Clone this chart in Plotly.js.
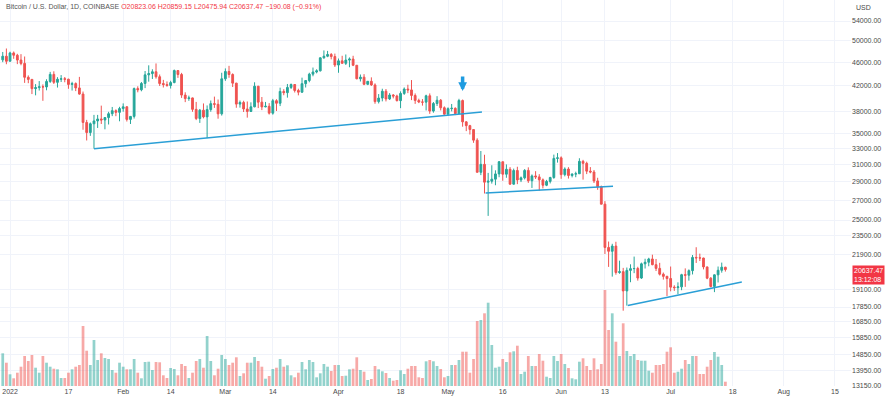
<!DOCTYPE html>
<html><head><meta charset="utf-8">
<script src="https://cdn.plot.ly/plotly-3.0.1.min.js"></script>
<style>html,body{margin:0;padding:0;background:#fff}#chart{width:887px;height:397px}</style>
</head><body><div id="chart"></div>
<script>
// Daily candles from 2021-12-30 to 2022-07-16 (consecutive days)
const startDate = '2021-12-30';
const openP = [46460,47120,46210,47720,47300,46430,45830,43430,43080,41560,41730,41870,41840,42740,43920,42590,43100,43180,43110,42250,42380,41680,40700,36470,35070,36280,36680,36960,36820,37160,37720,38170,37920,38480,38740,36900,37330,41570,41380,42410,43840,44060,44370,43520,42390,42220,42070,42550,44580,43900,40540,40000,40100,38360,37030,38240,37260,38330,39220,39120,37700,43180,44420,43900,42460,39150,39400,38420,38050,38740,41960,39450,38730,38820,37800,39670,39280,41120,40920,41760,42230,41270,41000,42370,42890,43960,44330,44530,46830,47120,47440,47060,45540,46280,45840,46420,46600,45500,43180,43450,42270,42760,42160,39530,40080,41150,39940,40550,40390,39680,40800,41500,41360,40480,39710,39470,39450,40430,38110,39240,39740,38600,37650,38470,38520,37730,39690,36550,36020,35480,34050,30070,31010,28940,29050,29280,29880,31320,29850,30420,28720,30280,29190,29430,30290,29100,29650,29540,29200,28600,29030,29470,31730,31800,29800,30450,29700,29860,29900,31370,31130,30200,30100,29080,28430,26580,22480,22150,22600,20400,20470,19000,20570,20710,20720,19970,21100,21230,21500,21030,20730,20270,20100,19930,19280,19240,19300,20230,20190,20550,21630,21590,21580,20850,19960,19330,20220,20580,20823.06];
const highP = [47900,48550,47950,47990,47560,47500,47070,43750,43140,42300,42800,42250,43100,44350,44450,43450,43800,43480,43190,42680,42580,43500,41100,36830,36460,37550,37550,38920,37230,38000,38720,38360,38740,39260,38850,37390,41740,41940,42650,44500,45490,44800,45820,43900,43000,42740,42850,44750,44580,44180,40980,40450,40150,39480,38420,39250,38950,39700,40300,39850,44200,44950,45400,44100,42510,39700,39660,39550,39420,42600,42000,40240,39480,39300,39950,39890,41720,41480,42320,42400,42300,41550,43370,42880,44200,45100,44800,46920,48190,48100,47700,47600,46700,47200,47440,46900,47200,45500,43900,43960,42800,43420,42420,40700,41550,41500,40850,40700,40600,41130,41760,42200,42970,40800,39980,39920,40600,40800,39470,40370,39930,38800,38660,39170,38650,39960,39850,36650,36130,35500,34300,32650,32180,30000,30900,30300,31410,31330,31000,30680,30500,30720,29580,30440,30650,29820,30200,29850,29360,29200,29550,32200,32390,31980,30650,30670,29950,30140,31750,31550,31330,30680,30340,29440,28560,26890,23000,22800,22980,21360,20770,20800,21060,21700,20860,21200,21520,21600,21860,21500,21180,20400,20150,20880,19420,19640,20300,20730,20650,21830,22500,21950,21600,20860,20040,20250,20880,21200,20859.15];
const lowP = [46050,45680,46210,46650,45700,45500,42500,42450,40700,40500,41260,39650,41300,42500,42320,41740,42650,42600,41540,41260,41170,40600,35450,34010,34620,32950,35700,36250,35510,36180,37370,37360,36630,38010,36600,36250,37020,40980,41140,41650,42700,43150,43200,42000,41750,41880,41580,42440,43330,40100,39450,39650,38000,36800,36400,37050,34320,38010,38580,37000,37450,42830,43350,41830,38600,38620,37970,37150,38010,38670,38550,38250,38670,37600,37580,38120,38850,40520,40140,41500,40950,40500,40880,41750,42600,43600,44100,44420,46660,46950,46550,45200,44200,45830,45550,45150,45350,43100,42730,42120,42130,42000,39200,39250,39570,39560,39780,40030,39550,38540,40570,40850,39760,39180,39300,38920,38200,37700,37870,38870,38200,37590,37400,38060,37520,37680,35870,35260,34800,33700,30050,29740,27700,25400,28780,28600,29500,29100,29440,28650,28670,28720,28950,29250,28860,28300,29300,28000,28250,28500,28800,29320,31220,29320,29600,29350,29480,29500,29880,29230,29860,29950,28850,28100,26560,21920,20850,20080,20230,20300,17600,17950,19650,20350,19770,19900,20720,20900,20980,20520,20170,19850,18630,18970,19000,18760,19050,19300,19770,20250,21170,21330,20650,19880,19260,18910,19630,20390,20475.94];
const closeP = [47120,46210,47720,47300,46430,45830,43430,43080,41560,41730,41870,41840,42740,43920,42590,43100,43180,43110,42250,42380,41680,40700,36470,35070,36280,36680,36960,36820,37160,37720,38170,37920,38480,38740,36900,37330,41570,41380,42410,43840,44060,44370,43520,42390,42220,42070,42550,44580,43900,40540,40000,40100,38360,37030,38240,37260,38330,39220,39120,37700,43180,44420,43900,42460,39150,39400,38420,38050,38740,41960,39450,38730,38820,37800,39670,39280,41120,40920,41760,42230,41270,41000,42370,42890,43960,44330,44530,46830,47120,47440,47060,45540,46280,45840,46420,46600,45500,43180,43450,42270,42760,42160,39530,40080,41150,39940,40550,40390,39680,40800,41500,41360,40480,39710,39470,39450,40430,38110,39240,39740,38600,37650,38470,38520,37730,39690,36550,36020,35480,34050,30070,31010,28940,29050,29280,29880,31320,29850,30420,28720,30280,29190,29430,30290,29100,29650,29540,29200,28600,29030,29470,31730,31800,29800,30450,29700,29860,29900,31370,31130,30200,30100,29080,28430,26580,22480,22150,22600,20400,20470,19000,20570,20710,20720,19970,21100,21230,21500,21030,20730,20270,20100,19930,19280,19240,19300,20230,20190,20550,21630,21590,21580,20850,19960,19330,20220,20580,20827.55,20637.47];
const volumeBTC = [32700,23300,11700,7700,13300,19300,30000,25000,31000,18300,13300,30000,23300,19300,17300,16700,8000,8000,13300,16700,19300,21000,60000,35300,21000,46000,26000,32700,28000,27000,16000,13300,23300,19300,16700,16700,27000,13300,7700,24000,24300,16000,24000,23700,10700,8000,18000,17000,10700,22000,20000,8000,13300,25000,27000,18300,50000,25000,10700,17300,31000,27000,21000,23300,28700,10000,12700,23300,23300,29000,25000,19300,7300,10000,17000,18300,27000,19300,20700,10700,8700,13300,24000,16700,26000,24000,8700,12700,22000,19300,15000,21000,21000,10000,10300,16700,17300,28700,16000,14300,6000,7000,20000,16700,14700,13000,8000,5300,6000,15700,12000,17300,20000,20000,8700,8000,24700,26000,24700,20000,17000,8700,10000,21000,21000,26000,34300,34300,13300,27000,65000,66000,72700,83300,41000,18300,19300,27000,24000,33700,34700,40300,12000,14300,30000,20000,20000,32000,25300,9300,8000,30000,25000,32000,22000,18000,7700,6700,24300,27700,20000,16000,27700,16700,22000,96000,56000,72700,44300,30000,62700,35000,30000,32000,26000,25300,25300,15300,13300,21000,21000,22000,34300,38700,13300,14300,17300,26000,22000,30000,30000,12000,12000,19300,26000,34000,29300,21000,4300];

// Tick labels
const dateTickVals = ['2022-01-01','2022-01-17','2022-02-01','2022-02-14','2022-03-01','2022-03-14','2022-04-01','2022-04-18','2022-05-01','2022-05-16','2022-06-01','2022-06-13','2022-07-01','2022-07-18','2022-08-01','2022-08-15'];
const dateTickText = ['2022','17','Feb','14','Mar','14','Apr','18','May','16','Jun','13','Jul','18','Aug','15'];
const priceTickVals = [54000,50000,46000,42000,38000,35000,33000,31000,29000,27000,25000,23500,21900,19100,17850,16850,15850,14850,13950,13150];

// Trend lines (drawings)
const trend1Dates = ['2022-01-24','2022-05-10 07:00'];
const trend1Prices = [32950, 37980];
const trend2Dates = ['2022-05-11 07:00','2022-06-15 05:00'];
const trend2Prices = [27760, 28500];
const trend3Dates = ['2022-06-19 06:00','2022-07-20 12:00'];
const trend3Prices = [17950, 19670];
const arrowDate = '2022-05-05';
const arrowPrice = 41200;

// build dates
const dates = [];
{
  const d0 = new Date(startDate + 'T00:00:00Z');
  for (let i = 0; i < closeP.length; i++) {
    const d = new Date(d0.getTime() + i * 86400000);
    dates.push(d.toISOString().slice(0, 10));
  }
}
const UP = '#26A69A', DOWN = '#EF5350';
const volColors = closeP.map((c, i) => c >= openP[i] ? 'rgba(38,166,154,0.5)' : 'rgba(239,83,80,0.5)');

const n = closeP.length;
const lastO = openP[n-1], lastH = highP[n-1], lastL = lowP[n-1], lastC = closeP[n-1];
const chg = lastC - closeP[n-2];
const pct = chg / closeP[n-2] * 100;
const fmt = v => v.toFixed(2);
const sgn = v => (v < 0 ? '\u2212' : '+') + Math.abs(v).toFixed(2);

const traces = [
  { type: 'bar', x: dates, y: volumeBTC, marker: { color: volColors, line: { width: 0 } },
    xaxis: 'x', yaxis: 'y', hoverinfo: 'skip', showlegend: false },
  { type: 'candlestick', x: dates, open: openP, high: highP, low: lowP, close: closeP,
    xaxis: 'x', yaxis: 'y2', showlegend: false, hoverinfo: 'skip', whiskerwidth: 0,
    increasing: { line: { color: UP, width: 1 }, fillcolor: UP },
    decreasing: { line: { color: DOWN, width: 1 }, fillcolor: DOWN } },
  { type: 'scatter', mode: 'lines', x: trend1Dates, y: trend1Prices, xaxis: 'x', yaxis: 'y2',
    line: { color: '#2A9FD6', width: 1.5 }, showlegend: false, hoverinfo: 'skip' },
  { type: 'scatter', mode: 'lines', x: trend2Dates, y: trend2Prices, xaxis: 'x', yaxis: 'y2',
    line: { color: '#2A9FD6', width: 1.5 }, showlegend: false, hoverinfo: 'skip' },
  { type: 'scatter', mode: 'lines', x: trend3Dates, y: trend3Prices, xaxis: 'x', yaxis: 'y2',
    line: { color: '#2A9FD6', width: 1.5 }, showlegend: false, hoverinfo: 'skip' }
];

const font = 'Liberation Sans, Arial, sans-serif';
const headFont = 'Liberation Sans Narrow, Liberation Sans, Arial, sans-serif';
const layout = {
  width: 887, height: 397,
  margin: { l: 0, r: 36, t: 0, b: 11, pad: 0 },
  paper_bgcolor: '#ffffff', plot_bgcolor: '#ffffff',
  font: { family: font, size: 7, color: '#4a4a4a' },
  bargap: 0.25, boxgap: 0.3,
  showlegend: false,
  xaxis: {
    type: 'date', range: ['2021-12-29 06:00', '2022-08-19 10:00'],
    tickvals: dateTickVals, ticktext: dateTickText, tickangle: 0,
    showgrid: true, gridcolor: '#F0F3FA', gridwidth: 1, zeroline: false, showline: false,
    ticks: '', tickfont: { size: 7, color: '#4a4a4a' },
    rangeslider: { visible: false }, fixedrange: true
  },
  yaxis: { range: [0, 386000], visible: false, showgrid: false, zeroline: false, fixedrange: true },
  yaxis2: {
    overlaying: 'y', side: 'right', type: 'log',
    range: [Math.log10(13150), Math.log10(58574)],
    tickvals: priceTickVals, ticktext: priceTickVals.map(v => v.toFixed(2)),
    showgrid: true, gridcolor: '#F0F3FA', gridwidth: 1, zeroline: false, showline: false,
    ticks: '', tickfont: { size: 7, color: '#4a4a4a' }, fixedrange: true
  },
  shapes: [
    { type: 'line', xref: 'paper', x0: 0, x1: 1, yref: 'y2', y0: Math.log10(lastC), y1: Math.log10(lastC),
      line: { color: '#F23645', width: 1, dash: 'dot' }, layer: 'above' }
  ],
  annotations: [
    { xref: 'paper', yref: 'paper', x: 0, y: 1, xanchor: 'left', yanchor: 'top', xshift: 4, yshift: -1,
      showarrow: false, align: 'left', font: { size: 7, color: '#555', family: headFont },
      text: 'Bitcoin / U.S. Dollar, 1D, COINBASE <span style="color:#F23645">O' + fmt(lastO) + ' H' + fmt(lastH) +
            ' L' + fmt(lastL) + ' C' + fmt(lastC) + ' ' + sgn(chg) + ' (' + sgn(pct) + '%)</span>' },
    { xref: 'paper', yref: 'paper', x: 1, y: 1, xanchor: 'left', yanchor: 'top', xshift: 3, yshift: -2,
      showarrow: false, text: 'USD', font: { size: 7, color: '#4a4a4a', family: font } },
    { xref: 'paper', yref: 'y2', x: 1, y: Math.log10(lastC), xanchor: 'left', yanchor: 'top', xshift: 1, yshift: 5,
      showarrow: false, text: fmt(lastC) + '<br>13:12:08', bgcolor: '#F23645', borderpad: 1, align: 'left',
      font: { size: 7, color: '#ffffff', family: font } },
    { xref: 'x', yref: 'y2', x: arrowDate, y: Math.log10(arrowPrice), ax: 0, ay: -15,
      showarrow: true, arrowhead: 2, arrowsize: 0.5, arrowwidth: 3.5, arrowcolor: '#1E9BE0',
      text: '', font: { size: 1 }, borderpad: 0 }
  ]
};
Plotly.newPlot('chart', traces, layout, { staticPlot: true, displayModeBar: false });
</script></body></html>
